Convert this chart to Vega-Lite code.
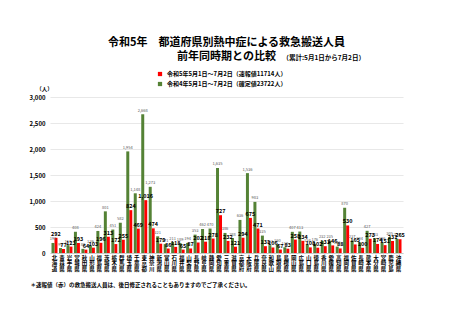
{
  "$schema": "https://vega.github.io/schema/vega-lite/v6.json",
  "width": 353,
  "height": 156,
  "autosize": {"type": "none"},
  "padding": {"left": 50, "top": 97, "right": 50, "bottom": 67},
  "background": "white",
  "config": {"font": "Noto Sans CJK JP", "view": {"stroke": null}},
  "title": {
    "text": ["令和5年　都道府県別熱中症による救急搬送人員", "前年同時期との比較"],
    "anchor": "middle",
    "frame": "group",
    "fontSize": 11,
    "fontWeight": "bold",
    "lineHeight": 14,
    "color": "black",
    "offset": -8
  },
  "data": {
    "values": [
      {"p": "北海道", "R5": 292, "R4": 193},
      {"p": "青森県", "R5": 77, "R4": 95},
      {"p": "岩手県", "R5": 123, "R4": 151},
      {"p": "宮城県", "R5": 193, "R4": 408},
      {"p": "秋田県", "R5": 64, "R4": 80},
      {"p": "山形県", "R5": 103, "R4": 139},
      {"p": "福島県", "R5": 196, "R4": 424},
      {"p": "茨城県", "R5": 313, "R4": 801},
      {"p": "栃木県", "R5": 172, "R4": 451},
      {"p": "群馬県", "R5": 255, "R4": 582},
      {"p": "埼玉県", "R5": 824, "R4": 1954},
      {"p": "千葉県", "R5": 469, "R4": 1148},
      {"p": "東京都", "R5": 1016, "R4": 2668},
      {"p": "神奈川県", "R5": 474, "R4": 1273},
      {"p": "新潟県", "R5": 179, "R4": 321},
      {"p": "富山県", "R5": 86, "R4": 171},
      {"p": "石川県", "R5": 118, "R4": 211},
      {"p": "福井県", "R5": 65, "R4": 189},
      {"p": "山梨県", "R5": 87, "R4": 194},
      {"p": "長野県", "R5": 202, "R4": 353},
      {"p": "岐阜県", "R5": 218, "R4": 462},
      {"p": "静岡県", "R5": 278, "R4": 470},
      {"p": "愛知県", "R5": 727, "R4": 1635},
      {"p": "三重県", "R5": 232, "R4": 386},
      {"p": "滋賀県", "R5": 121, "R4": 288},
      {"p": "京都府", "R5": 294, "R4": 636},
      {"p": "大阪府", "R5": 675, "R4": 1536},
      {"p": "兵庫県", "R5": 471, "R4": 983},
      {"p": "奈良県", "R5": 131, "R4": 335},
      {"p": "和歌山県", "R5": 106, "R4": 151},
      {"p": "鳥取県", "R5": 67, "R4": 160},
      {"p": "島根県", "R5": 83, "R4": 110},
      {"p": "岡山県", "R5": 258, "R4": 407},
      {"p": "広島県", "R5": 234, "R4": 413},
      {"p": "山口県", "R5": 108, "R4": 158},
      {"p": "徳島県", "R5": 102, "R4": 176},
      {"p": "香川県", "R5": 131, "R4": 232},
      {"p": "愛媛県", "R5": 146, "R4": 235},
      {"p": "高知県", "R5": 88, "R4": 123},
      {"p": "福岡県", "R5": 530, "R4": 870},
      {"p": "佐賀県", "R5": 165, "R4": 237},
      {"p": "長崎県", "R5": 100, "R4": 204},
      {"p": "熊本県", "R5": 273, "R4": 427},
      {"p": "大分県", "R5": 174, "R4": 283},
      {"p": "宮崎県", "R5": 151, "R4": 196},
      {"p": "鹿児島県", "R5": 231, "R4": 305},
      {"p": "沖縄県", "R5": 265, "R4": 271}
    ]
  },
  "transform": [{"fold": ["R5", "R4"], "as": ["s", "v"]}],
  "resolve": {"axis": {"x": "independent"}},
  "encoding": {
    "xOffset": {"field": "s", "scale": {"domain": ["R4", "R5"]}},
    "y": {
      "field": "v",
      "type": "quantitative",
      "scale": {"domain": [0, 3000]},
      "axis": {
        "values": [0, 500, 1000, 1500, 2000, 2500, 3000],
        "format": ",.0f",
        "title": "（人）",
        "titleAngle": 0,
        "titleX": -6,
        "titleY": -9,
        "titleAlign": "center",
        "titleBaseline": "middle",
        "titleFontSize": 5.5,
        "titleFontWeight": "bold",
        "titleColor": "black",
        "labelFontSize": 6,
        "labelFontWeight": "bold",
        "labelColor": "black",
        "labelPadding": 5,
        "ticks": false,
        "domain": false,
        "gridColor": "#d9d9d9",
        "gridWidth": 0.6
      }
    }
  },
  "layer": [
    {
      "mark": {"type": "bar"},
      "encoding": {
        "x": {
          "field": "p",
          "type": "nominal",
          "sort": null,
          "scale": {"paddingInner": 0.2, "paddingOuter": 0.2},
          "axis": {
            "orient": "bottom",
            "title": "＊速報値（赤）の救急搬送人員は、後日修正されることもありますのでご了承ください。",
            "titleX": -20,
            "titleY": 31,
            "titleAlign": "left",
            "titleAnchor": "start",
            "titleBaseline": "middle",
            "titleFontSize": 5.5,
            "titleFontWeight": "bold",
            "titleColor": "black",
            "labelAngle": 0,
            "labelExpr": "split(substring(datum.label, 0, 3), '')",
            "labelFontSize": 5.5,
            "labelLineHeight": 5.8,
            "labelFontWeight": "bold",
            "labelColor": "black",
            "labelBaseline": "top",
            "labelPadding": 2,
            "ticks": false,
            "domainColor": "#bfbfbf",
            "domainWidth": 0.8
          }
        },
        "color": {
          "field": "s",
          "type": "nominal",
          "scale": {"domain": ["R5", "R4"], "range": ["#ff0000", "#548235"]},
          "legend": {
            "orient": "none",
            "legendX": 107,
            "legendY": -26,
            "title": null,
            "direction": "vertical",
            "symbolType": "square",
            "symbolSize": 18,
            "symbolStrokeWidth": 0,
            "labelFontSize": 6,
            "labelFontWeight": "bold",
            "labelColor": "black",
            "rowPadding": 4,
            "padding": 0,
            "labelExpr": "datum.label == 'R5' ? '令和5年5月1日～7月2日（速報値11714人）' : '令和4年5月1日～7月2日（確定値23722人）'"
          }
        }
      }
    },
    {
      "transform": [{"filter": "datum.s == 'R4'"}],
      "mark": {"type": "text", "baseline": "bottom", "dy": -1.5, "fontSize": 4, "color": "#595959"},
      "encoding": {
        "x": {
          "field": "p",
          "type": "nominal",
          "sort": null,
          "axis": {
            "orient": "top",
            "labels": false,
            "ticks": false,
            "domain": false,
            "grid": false,
            "title": "（累計:5月1日から7月2日）",
            "titleX": 232,
            "titleY": -40,
            "titleAlign": "left",
            "titleAnchor": "start",
            "titleBaseline": "middle",
            "titleFontSize": 6.5,
            "titleFontWeight": "bold",
            "titleColor": "black"
          }
        },
        "text": {"field": "v", "type": "quantitative", "format": ","}
      }
    },
    {
      "transform": [{"filter": "datum.s == 'R5'"}],
      "mark": {"type": "text", "baseline": "bottom", "dy": -1, "fontSize": 5.5, "fontWeight": "bold", "color": "black"},
      "encoding": {
        "x": {"field": "p", "type": "nominal", "sort": null, "axis": null},
        "text": {"field": "v", "type": "quantitative", "format": ","}
      }
    }
  ]
}
